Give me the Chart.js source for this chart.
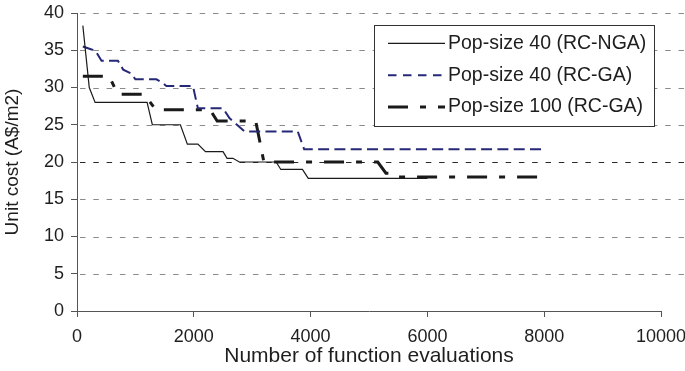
<!DOCTYPE html>
<html>
<head>
<meta charset="utf-8">
<script src="https://cdn.jsdelivr.net/npm/chart.js@4.4.1/dist/chart.umd.min.js"></script>
<style>
  html, body { margin: 0; padding: 0; background: #fff; }
  #wrap { width: 685px; height: 371px; }
</style>
</head>
<body>
<div id="wrap"><canvas id="c" width="685" height="371"></canvas></div>
<script>
// Convergence history: unit cost against number of function evaluations
const xTicks = [0, 2000, 4000, 6000, 8000, 10000];
const yTicks = [0, 5, 10, 15, 20, 25, 30, 35, 40];

const seriesNames = ['Pop-size 40 (RC-NGA)', 'Pop-size 40 (RC-GA)', 'Pop-size 100 (RC-GA)'];

// Pop-size 40, RC-NGA
const ngaEvals = [100, 210, 310, 1200, 1290, 1770, 1890, 2070, 2200, 2500, 2570, 2670, 2780, 3410, 3490, 3860, 3960, 6000];
const ngaCost  = [38.3, 30.0, 28.0, 28.0, 25.0, 25.0, 22.4, 22.4, 21.4, 21.4, 20.5, 20.5, 20.0, 20.0, 19.0, 19.0, 17.8, 17.8];

// Pop-size 40, RC-GA
const ga40Evals = [100, 250, 310, 420, 700, 790, 920, 1000, 1360, 1450, 1530, 1985, 2070, 2500, 2610, 2870, 3780, 3890, 8000];
const ga40Cost  = [35.5, 35.1, 35.0, 33.6, 33.6, 32.4, 31.9, 31.1, 31.1, 30.7, 30.2, 30.2, 27.2, 27.2, 25.9, 24.1, 24.1, 21.7, 21.7];

// Pop-size 100, RC-GA
const ga100Evals = [100, 550, 700, 1150, 1350, 2280, 2400, 3060, 3200, 5150, 5290, 5400, 5480, 8000];
const ga100Cost  = [31.5, 31.5, 29.1, 29.1, 27.0, 27.0, 25.5, 25.5, 20.0, 20.0, 18.5, 18.5, 18.0, 18.0];

const toPoints = (xs, ys) => xs.map((x, i) => ({ x: x, y: ys[i] }));

const FONT = "'Liberation Sans', Arial, Helvetica, sans-serif";

// white page behind the plot
const background = {
  id: 'background',
  beforeDraw(chart) {
    const ctx = chart.ctx;
    ctx.save();
    ctx.fillStyle = '#ffffff';
    ctx.fillRect(0, 0, chart.width, chart.height);
    ctx.restore();
  }
};

// dashed horizontal gridlines, running on to the right edge of the canvas
const hGrid = {
  id: 'hGrid',
  beforeDatasetsDraw(chart) {
    const { ctx, chartArea, scales } = chart;
    const y = scales.y;
    ctx.save();
    ctx.lineWidth = 1;
    ctx.setLineDash([5.5, 7.8]);
    y.ticks.forEach(t => {
      if (t.value === 0) return;
      const py = Math.round(y.getPixelForValue(t.value)) + 0.5;
      ctx.strokeStyle = t.value === 20 ? '#2a2a2a' : '#8a8a8a';
      ctx.beginPath();
      ctx.moveTo(chartArea.left + 3, py);
      ctx.lineTo(chart.width, py);
      ctx.stroke();
    });
    ctx.restore();
  }
};

// boxed legend in the upper right of the plot
const boxLegend = {
  id: 'boxLegend',
  afterDatasetsDraw(chart) {
    const ctx = chart.ctx;
    const left = 374.5, top = 25.5, w = 280, h = 101;
    const rows = [43.3, 75.3, 107.0];
    ctx.save();
    ctx.fillStyle = '#ffffff';
    ctx.fillRect(left, top, w, h);
    ctx.strokeStyle = '#333333';
    ctx.lineWidth = 1;
    ctx.setLineDash([]);
    ctx.strokeRect(left, top, w, h);
    chart.data.datasets.forEach((ds, i) => {
      const ry = rows[i];
      ctx.strokeStyle = ds.borderColor;
      ctx.lineWidth = ds.borderWidth;
      ctx.setLineDash(ds.legendDash || ds.borderDash || []);
      ctx.beginPath();
      ctx.moveTo(388, ry);
      ctx.lineTo(445, ry);
      ctx.stroke();
      ctx.setLineDash([]);
      ctx.fillStyle = '#1e1e1e';
      ctx.font = '19.5px ' + FONT;
      ctx.textAlign = 'left';
      ctx.textBaseline = 'middle';
      ctx.fillText(ds.label, 448, ry);
    });
    ctx.restore();
  }
};

new Chart(document.getElementById('c'), {
  type: 'line',
  data: {
    datasets: [
      {
        label: seriesNames[0],
        data: toPoints(ngaEvals, ngaCost),
        borderColor: '#1a1a1a',
        borderWidth: 1.2,
        borderDash: [],
        pointRadius: 0,
        tension: 0,
        fill: false
      },
      {
        label: seriesNames[1],
        data: toPoints(ga40Evals, ga40Cost),
        borderColor: '#262877',
        borderWidth: 2,
        borderDash: [11, 5.3],
        legendDash: [8.5, 6.5],
        pointRadius: 0,
        tension: 0,
        fill: false
      },
      {
        label: seriesNames[2],
        data: toPoints(ga100Evals, ga100Cost),
        borderColor: '#1a1a1a',
        borderWidth: 3,
        borderDash: [20, 12, 6, 12],
        pointRadius: 0,
        tension: 0,
        fill: false
      }
    ]
  },
  options: {
    responsive: false,
    devicePixelRatio: 1,
    animation: false,
    layout: { padding: { top: 13, right: 24, left: 0, bottom: 0 } },
    plugins: {
      legend: { display: false },
      tooltip: { enabled: false }
    },
    scales: {
      x: {
        type: 'linear',
        min: 0,
        max: 10000,
        afterFit(scale) {
          scale.height = 60;
          scale.paddingLeft = 0;
          scale.paddingRight = 0;
        },
        afterBuildTicks(scale) { scale.ticks = xTicks.map(v => ({ value: v })); },
        border: { display: true, color: '#555555', width: 1 },
        grid: {
          drawOnChartArea: false,
          drawTicks: true,
          tickLength: 6,
          tickColor: '#555555',
          tickWidth: 1
        },
        ticks: {
          color: '#1e1e1e',
          font: { family: FONT, size: 18 },
          padding: 9,
          maxRotation: 0,
          autoSkip: false,
          callback: v => String(v)
        },
        title: {
          display: true,
          text: 'Number of function evaluations',
          color: '#1e1e1e',
          font: { family: FONT, size: 21 },
          padding: { top: 0, bottom: 2 }
        }
      },
      y: {
        type: 'linear',
        min: 0,
        max: 40,
        afterFit(scale) {
          scale.width = 77;
          scale.paddingTop = 0;
          scale.paddingBottom = 0;
        },
        afterBuildTicks(scale) { scale.ticks = yTicks.map(v => ({ value: v })); },
        border: { display: true, color: '#555555', width: 1 },
        grid: {
          drawOnChartArea: false,
          drawTicks: true,
          tickLength: 6,
          tickColor: '#555555',
          tickWidth: 1
        },
        ticks: {
          color: '#1e1e1e',
          font: { family: FONT, size: 18 },
          padding: 7,
          autoSkip: false,
          callback: v => String(v)
        },
        title: {
          display: true,
          text: 'Unit cost (A$/m2)',
          color: '#1e1e1e',
          font: { family: FONT, size: 19 },
          padding: { top: 1, bottom: 0 }
        }
      }
    }
  },
  plugins: [background, hGrid, boxLegend]
});
</script>
</body>
</html>
